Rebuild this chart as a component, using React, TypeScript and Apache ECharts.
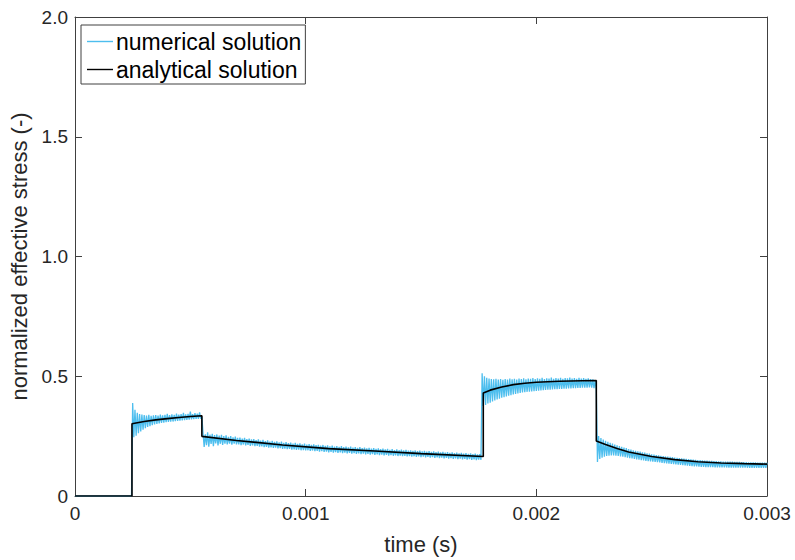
import React, { useEffect, useRef } from "react";
import * as echarts from "echarts";

// Analytical solution: [time (s), normalized effective stress]
const analyticalTime = [
  0, 0.000247, 0.000247, 0.0003, 0.00035, 0.0004, 0.00045, 0.0005, 0.00055,
  0.00055, 0.0007, 0.0009, 0.0011, 0.0013, 0.0015, 0.00177,
  0.00177, 0.0018, 0.00185, 0.0019, 0.00195, 0.002, 0.0021, 0.0022, 0.00226,
  0.00226, 0.0023, 0.00235, 0.0024, 0.0025, 0.0026, 0.0027, 0.0028, 0.0029, 0.003,
];
const analyticalValue = [
  0, 0, 0.302, 0.311, 0.318, 0.323, 0.328, 0.332, 0.335,
  0.249, 0.232, 0.213, 0.198, 0.188, 0.177, 0.165,
  0.43, 0.442, 0.455, 0.465, 0.471, 0.475, 0.479, 0.481, 0.482,
  0.23, 0.215, 0.198, 0.184, 0.165, 0.152, 0.143, 0.138, 0.135, 0.133,
];

// Numerical solution: each segment is sampled every 5 microseconds from its start time
const numericalStep = 0.000005;
const numSeg0Start = 0;
const numSeg0 = [
  0, 0, 0, 0, 0, 0, 0, 0, 0, 0, 0, 0, 0, 0, 0, 0, 0, 0, 0, 0, 0, 0, 0, 0, 0,
  0, 0, 0, 0, 0, 0, 0, 0, 0, 0, 0, 0, 0, 0, 0, 0, 0, 0, 0, 0, 0, 0, 0, 0, 0,
];
const numSeg1Start = 0.00025;
const numSeg1 = [
  0.388, 0.245, 0.360, 0.252, 0.347, 0.262, 0.342, 0.270, 0.340, 0.277,
  0.338, 0.283, 0.336, 0.288, 0.339, 0.292, 0.335, 0.296, 0.337, 0.299,
  0.338, 0.301, 0.336, 0.303, 0.340, 0.305, 0.337, 0.306, 0.339, 0.308,
  0.343, 0.309, 0.338, 0.310, 0.341, 0.311, 0.339, 0.313, 0.344, 0.314,
  0.340, 0.315, 0.342, 0.316, 0.347, 0.317, 0.341, 0.318, 0.343, 0.319,
  0.352, 0.320, 0.342, 0.321, 0.346, 0.322, 0.344, 0.322, 0.349, 0.323,
  0.332,
];
const numSeg2Start = 0.000555;
const numSeg2 = [
  0.262, 0.205, 0.258, 0.212, 0.266, 0.206, 0.256, 0.217, 0.260, 0.208,
  0.254, 0.220, 0.257, 0.211, 0.252, 0.218, 0.255, 0.213, 0.250, 0.219,
  0.253, 0.215, 0.247, 0.219, 0.250, 0.214, 0.245, 0.219, 0.248, 0.215,
  0.243, 0.215, 0.244, 0.212, 0.240, 0.215, 0.243, 0.211, 0.237, 0.213,
  0.240, 0.209, 0.236, 0.211, 0.238, 0.208, 0.233, 0.209, 0.236, 0.206,
  0.231, 0.207, 0.234, 0.204, 0.229, 0.205, 0.232, 0.202, 0.227, 0.203,
  0.230, 0.201, 0.226, 0.202, 0.228, 0.199, 0.224, 0.200, 0.227, 0.197,
  0.222, 0.198, 0.225, 0.196, 0.221, 0.197, 0.223, 0.194, 0.219, 0.195,
  0.222, 0.193, 0.218, 0.194, 0.220, 0.191, 0.216, 0.192, 0.219, 0.190,
  0.215, 0.191, 0.217, 0.188, 0.213, 0.190, 0.216, 0.187, 0.212, 0.188,
  0.214, 0.185, 0.210, 0.187, 0.213, 0.184, 0.209, 0.185, 0.211, 0.182,
  0.207, 0.184, 0.210, 0.181, 0.206, 0.183, 0.208, 0.180, 0.205, 0.182,
  0.208, 0.179, 0.204, 0.181, 0.206, 0.178, 0.203, 0.180, 0.206, 0.177,
  0.202, 0.179, 0.204, 0.176, 0.201, 0.178, 0.204, 0.175, 0.200, 0.177,
  0.202, 0.174, 0.199, 0.176, 0.201, 0.173, 0.198, 0.175, 0.200, 0.172,
  0.197, 0.174, 0.199, 0.171, 0.196, 0.173, 0.198, 0.170, 0.195, 0.172,
  0.197, 0.169, 0.193, 0.171, 0.196, 0.168, 0.192, 0.170, 0.195, 0.167,
  0.191, 0.169, 0.194, 0.166, 0.190, 0.168, 0.193, 0.165, 0.189, 0.167,
  0.191, 0.164, 0.188, 0.166, 0.190, 0.163, 0.187, 0.165, 0.189, 0.162,
  0.186, 0.164, 0.188, 0.161, 0.185, 0.163, 0.187, 0.160, 0.184, 0.162,
  0.186, 0.159, 0.183, 0.161, 0.185, 0.158, 0.182, 0.160, 0.184, 0.157,
  0.181, 0.159, 0.183, 0.156, 0.180, 0.158, 0.182, 0.155, 0.179, 0.157,
  0.181, 0.154, 0.178, 0.156, 0.180, 0.153, 0.177, 0.155, 0.179, 0.152,
  0.176, 0.154, 0.178, 0.151, 0.175, 0.153, 0.177, 0.150, 0.174, 0.152,
  0.175, 0.151,
];
const numSeg3Start = 0.001765;
const numSeg3 = [
  0.512, 0.376, 0.500, 0.380, 0.494, 0.386, 0.490, 0.390, 0.488, 0.395,
  0.487, 0.399, 0.489, 0.403, 0.486, 0.406, 0.488, 0.410, 0.485, 0.413,
  0.488, 0.416, 0.486, 0.419, 0.490, 0.421, 0.487, 0.424, 0.489, 0.426,
  0.486, 0.428, 0.490, 0.430, 0.488, 0.432, 0.491, 0.433, 0.487, 0.435,
  0.490, 0.436, 0.489, 0.437, 0.492, 0.438, 0.488, 0.439, 0.491, 0.440,
  0.489, 0.441, 0.493, 0.442, 0.488, 0.443, 0.491, 0.444, 0.490, 0.444,
  0.494, 0.445, 0.489, 0.446, 0.492, 0.446, 0.490, 0.447, 0.493, 0.447,
  0.489, 0.448, 0.492, 0.448, 0.491, 0.449, 0.494, 0.449, 0.490, 0.450,
  0.492, 0.450, 0.489, 0.451, 0.493, 0.451, 0.490, 0.452, 0.492, 0.452,
  0.489, 0.452, 0.491, 0.453, 0.488, 0.452, 0.487, 0.450, 0.484, 0.446,
];
const numSeg4Start = 0.002265;
const numSeg4 = [
  0.142, 0.250, 0.155, 0.242, 0.160, 0.236, 0.164, 0.231, 0.167, 0.226,
  0.168, 0.222, 0.169, 0.219, 0.169, 0.215, 0.168, 0.212, 0.167, 0.208,
  0.165, 0.205, 0.164, 0.202, 0.162, 0.200, 0.160, 0.196, 0.158, 0.194,
  0.157, 0.191, 0.155, 0.189, 0.153, 0.186, 0.152, 0.185, 0.150, 0.182,
  0.149, 0.181, 0.147, 0.178, 0.146, 0.177, 0.144, 0.174, 0.143, 0.173,
  0.142, 0.171, 0.141, 0.170, 0.140, 0.168, 0.138, 0.167, 0.137, 0.165,
  0.136, 0.164, 0.135, 0.163, 0.134, 0.162, 0.133, 0.160, 0.132, 0.159,
  0.131, 0.158, 0.130, 0.157, 0.129, 0.156, 0.128, 0.155, 0.127, 0.154,
  0.126, 0.153, 0.125, 0.152, 0.124, 0.151, 0.124, 0.150, 0.123, 0.150,
  0.122, 0.149, 0.122, 0.148, 0.121, 0.148, 0.121, 0.147, 0.121, 0.147,
  0.121, 0.146, 0.120, 0.146, 0.120, 0.145, 0.120, 0.145, 0.120, 0.144,
  0.120, 0.144, 0.119, 0.143, 0.119, 0.143, 0.119, 0.143, 0.119, 0.142,
  0.119, 0.142, 0.119, 0.142, 0.118, 0.141, 0.118, 0.141, 0.118, 0.141,
  0.118, 0.140, 0.118, 0.140, 0.118, 0.140, 0.118, 0.140, 0.118, 0.139,
  0.118, 0.139, 0.118, 0.139, 0.118, 0.139, 0.118, 0.139,
];

const numericalSegments: [number, number[]][] = [
  [numSeg0Start, numSeg0],
  [numSeg1Start, numSeg1],
  [numSeg2Start, numSeg2],
  [numSeg3Start, numSeg3],
  [numSeg4Start, numSeg4],
];

const xMin = 0;
const xMax = 0.003;
const xInterval = 0.001;
const yMin = 0;
const yMax = 2.0;
const yInterval = 0.5;

const seriesNames = ["numerical solution", "analytical solution"];

const AXIS_COLOR = "#404040";
const TEXT_COLOR = "#262626";
const FONT = "'Liberation Sans', Arial, Helvetica, sans-serif";

export default function App() {
  const ref = useRef<HTMLDivElement>(null);

  useEffect(() => {
    if (!ref.current) return;
    const chart = echarts.init(ref.current, undefined, { renderer: "svg" });

    const numericalData: number[][] = [];
    numericalSegments.forEach(([start, values]) => {
      values.forEach((v, i) => {
        numericalData.push([Number((start + i * numericalStep).toFixed(7)), v]);
      });
    });
    const analyticalData = analyticalTime.map((t, i) => [t, analyticalValue[i]]);

    const baseAxisLine = { show: true, onZero: false, lineStyle: { color: AXIS_COLOR, width: 1 } };
    const baseTick = { show: true, inside: true, length: 7, lineStyle: { color: AXIS_COLOR, width: 1 } };

    chart.setOption({
      animation: false,
      textStyle: { fontFamily: FONT },
      grid: { left: 75, right: 28, top: 17, bottom: 59, containLabel: false },
      legend: {
        show: true,
        left: 81,
        top: 25,
        orient: "vertical",
        data: [
          { name: seriesNames[0], icon: "rect" },
          { name: seriesNames[1], icon: "rect" },
        ],
        backgroundColor: "#ffffff",
        borderColor: "#404040",
        borderWidth: 1,
        borderRadius: 0,
        padding: [5, 4, 3, 6],
        itemGap: 5,
        itemWidth: 26,
        itemHeight: 1.4,
        textStyle: { fontSize: 23, color: "#000000", fontFamily: FONT, padding: [0, 0, 0, -2] },
      },
      xAxis: [
        {
          type: "value",
          position: "bottom",
          min: xMin,
          max: xMax,
          interval: xInterval,
          axisLine: baseAxisLine,
          axisTick: baseTick,
          splitLine: { show: false },
          axisLabel: {
            fontSize: 19,
            color: TEXT_COLOR,
            margin: 8,
            fontFamily: FONT,
            formatter: (v: number) => (v === 0 ? "0" : v.toFixed(3)),
          },
          name: "time (s)",
          nameLocation: "middle",
          nameGap: 37,
          nameTextStyle: { fontSize: 22, color: TEXT_COLOR, fontFamily: FONT },
        },
        {
          type: "value",
          position: "top",
          min: xMin,
          max: xMax,
          interval: xInterval,
          axisLine: baseAxisLine,
          axisTick: baseTick,
          splitLine: { show: false },
          axisLabel: { show: false },
        },
      ],
      yAxis: [
        {
          type: "value",
          position: "left",
          min: yMin,
          max: yMax,
          interval: yInterval,
          axisLine: baseAxisLine,
          axisTick: baseTick,
          splitLine: { show: false },
          axisLabel: {
            fontSize: 19,
            color: TEXT_COLOR,
            margin: 7,
            fontFamily: FONT,
            formatter: (v: number) => (v === 0 ? "0" : v.toFixed(1)),
          },
          name: "normalized effective stress (-)",
          nameLocation: "middle",
          nameGap: 40,
          nameTextStyle: { fontSize: 22, color: TEXT_COLOR, fontFamily: FONT },
        },
        {
          type: "value",
          position: "right",
          min: yMin,
          max: yMax,
          interval: yInterval,
          axisLine: baseAxisLine,
          axisTick: baseTick,
          splitLine: { show: false },
          axisLabel: { show: false },
        },
      ],
      series: [
        {
          name: seriesNames[0],
          type: "line",
          xAxisIndex: 0,
          yAxisIndex: 0,
          data: numericalData,
          symbol: "none",
          lineStyle: { color: "#4DBEEE", width: 1.3 },
          itemStyle: { color: "#4DBEEE" },
          z: 2,
        },
        {
          name: seriesNames[1],
          type: "line",
          xAxisIndex: 0,
          yAxisIndex: 0,
          data: analyticalData,
          symbol: "none",
          lineStyle: { color: "#000000", width: 1.6 },
          itemStyle: { color: "#000000" },
          z: 3,
        },
      ],
    });

    return () => {
      chart.dispose();
    };
  }, []);

  return (
    <div
      ref={ref}
      style={{ position: "fixed", left: 0, top: 0, width: 795, height: 560, background: "#ffffff" }}
    />
  );
}
